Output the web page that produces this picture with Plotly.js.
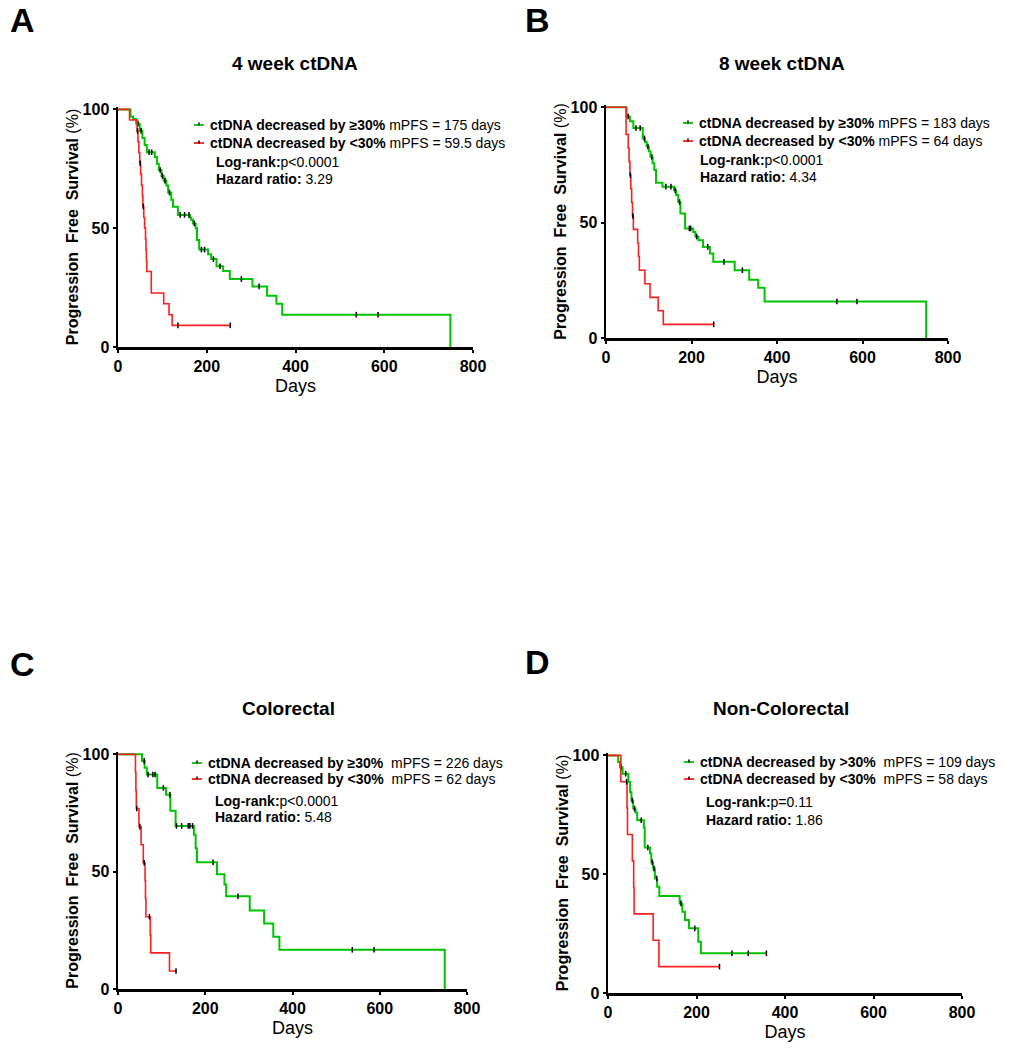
<!DOCTYPE html>
<html>
<head>
<meta charset="utf-8">
<script src="https://cdn.plot.ly/plotly-3.0.1.min.js"></script>
<style>
  html, body { margin: 0; padding: 0; background: #fff; }
  #grafico { width: 1013px; height: 1050px; }
</style>
</head>
<body>
<div id="grafico"></div>
<script>
// ---------------------------------------------------------------------
// DATA (days vs PFS %)
// ---------------------------------------------------------------------
const daysTicks = [0, 200, 400, 600, 800];
const pfsTicks = [0, 50, 100];

// A - 4 week ctDNA
const aGreenDays = [28, 34, 41, 49, 55, 60, 65, 83, 88, 92, 98, 103, 109, 113, 120, 124, 135, 162, 165, 169, 175, 178, 183, 203, 210, 222, 237, 252, 303, 336, 357, 370, 749];
const aGreenPfs = [97, 96, 94, 91, 88, 85, 82, 80, 77, 74.5, 72, 70, 68, 65, 62, 59, 55.6, 54.5, 53.5, 52, 50, 45, 41, 39, 37, 34, 32, 28.6, 25.5, 21.6, 18.2, 13.6, 0];
const aGreenCensored = [45, 52, 70, 76, 95, 100, 106, 116, 140, 150, 160, 172, 188, 195, 215, 230, 278, 318, 537, 586];
const aRedDays = [26, 43, 45, 47, 49, 51, 53, 55, 56, 58, 60, 62, 63, 64, 65, 75, 103, 115, 122];
const aRedPfs = [95.5, 90.9, 86.4, 81.8, 77.3, 72.7, 68.2, 63.6, 59.1, 54.5, 50, 45.5, 40.9, 36.4, 31.8, 22.7, 18.2, 13.6, 9.1];
const aRedCensored = [44, 50, 57, 135, 253];

// B - 8 week ctDNA
const bGreenDays = [48, 56, 64, 86, 91, 95, 100, 104, 109, 113, 117, 132, 159, 164, 169, 174, 185, 204, 209, 216, 227, 243, 251, 301, 335, 356, 371, 749];
const bGreenPfs = [96, 94, 91, 86.5, 85, 83, 81, 78.6, 75.7, 72.8, 67.3, 65.6, 64, 62, 59, 54, 47.5, 46, 44, 42.4, 39.5, 36.6, 33, 29.4, 25.3, 21.8, 15.8, 0];
const bGreenCensored = [52, 70, 80, 90, 98, 107, 140, 152, 162, 172, 195, 198, 212, 238, 276, 319, 540, 587];
const bRedDays = [47, 52, 54, 56, 58, 60, 62, 64, 74, 76, 78, 91, 103, 122, 134];
const bRedPfs = [88.2, 82.4, 76.5, 70.6, 64.7, 58.8, 52.9, 47.1, 41.2, 35.3, 29.4, 23.5, 17.6, 11.8, 5.9];
const bRedCensored = [57, 63, 252];

// C - Colorectal
const cGreenDays = [55, 61, 66, 90, 110, 120, 132, 174, 178, 181, 227, 244, 248, 302, 335, 356, 370, 749];
const cGreenPfs = [97.2, 94.3, 91.4, 85.7, 82.8, 76, 69.5, 65.7, 60, 54, 48.9, 44.5, 39.5, 33.5, 27.9, 22.3, 16.7, 0];
const cGreenCensored = [60, 69, 80, 85, 104, 119, 134, 146, 161, 165, 171, 218, 275, 537, 587];
const cRedDays = [40, 41, 42, 48, 53, 58, 62, 63, 64, 74, 75, 118];
const cRedPfs = [92.3, 84.6, 76.9, 69.2, 61.5, 53.8, 46.2, 38.5, 30.8, 23.1, 15.4, 7.7];
const cRedCensored = [43, 50, 60, 72, 133];

// D - Non-Colorectal
const dGreenDays = [23, 27, 33, 46, 50, 53, 57, 62, 66, 81, 83, 95, 98, 102, 106, 111, 116, 162, 168, 174, 183, 204, 210];
const dGreenPfs = [97.2, 95, 92.3, 88.8, 84.6, 81, 77.6, 76, 72.7, 69.6, 61.2, 58.7, 55, 52.4, 48.2, 44.7, 40.8, 37.7, 34.2, 30.7, 27.2, 21.6, 16.7];
const dGreenCensored = [30, 40, 55, 60, 75, 90, 100, 104, 110, 165, 196, 280, 317, 358];
const dRedDays = [29, 43, 44, 55, 58, 59, 102, 115];
const dRedPfs = [88.9, 77.8, 66.7, 55.6, 44.4, 33.3, 22.2, 11.1];
const dRedCensored = [42, 252];

// ---------------------------------------------------------------------
// STYLE / LAYOUT HELPERS
// ---------------------------------------------------------------------
const FUENTE = "Arial, 'Liberation Sans', sans-serif";
const VERDE = "#00c400";
const ROJO = "#ff1f1f";
const ANCHO = 1013, ALTO = 1050;
const px = (x) => x / ANCHO;
const py = (y) => 1 - y / ALTO;

// Panel boxes in page pixels (left, right, top, bottom of the plot area)
const panels = [
  {
    letra: "A", titulo: "4 week ctDNA", caja: [118, 473, 107, 347],
    verde: [aGreenDays, aGreenPfs, aGreenCensored], rojo: [aRedDays, aRedPfs, aRedCensored],
    nombreVerde: "<b>ctDNA decreased by ≥30%</b> mPFS = 175 days",
    nombreRojo: "<b>ctDNA decreased by &lt;30%</b> mPFS = 59.5 days",
    logrank: "<b>Log-rank:</b>p&lt;0.0001", hazard: "<b>Hazard ratio:</b> 3.29",
    leyenda: [208, 125, 143], notas: [214, 162, 179], letraPos: [22, 20], tituloPos: [295, 63],
  },
  {
    letra: "B", titulo: "8 week ctDNA", caja: [606, 948, 105, 338],
    verde: [bGreenDays, bGreenPfs, bGreenCensored], rojo: [bRedDays, bRedPfs, bRedCensored],
    nombreVerde: "<b>ctDNA decreased by ≥30%</b> mPFS = 183 days",
    nombreRojo: "<b>ctDNA decreased by &lt;30%</b> mPFS = 64 days",
    logrank: "<b>Log-rank:</b>p&lt;0.0001", hazard: "<b>Hazard ratio:</b> 4.34",
    leyenda: [697, 123, 141], notas: [698, 160, 177], letraPos: [537, 20], tituloPos: [782, 63],
  },
  {
    letra: "C", titulo: "Colorectal", caja: [118, 467, 752, 989],
    verde: [cGreenDays, cGreenPfs, cGreenCensored], rojo: [cRedDays, cRedPfs, cRedCensored],
    nombreVerde: "<b>ctDNA decreased by ≥30%</b>\u00a0 mPFS = 226 days",
    nombreRojo: "<b>ctDNA decreased by &lt;30%</b>\u00a0 mPFS = 62 days",
    logrank: "<b>Log-rank:</b>p&lt;0.0001", hazard: "<b>Hazard ratio:</b> 5.48",
    leyenda: [206, 763, 779], notas: [213, 801, 817], letraPos: [22, 664], tituloPos: [288, 708],
  },
  {
    letra: "D", titulo: "Non-Colorectal", caja: [608, 962, 753, 993],
    verde: [dGreenDays, dGreenPfs, dGreenCensored], rojo: [dRedDays, dRedPfs, dRedCensored],
    nombreVerde: "<b>ctDNA decreased by >30%</b>\u00a0 mPFS = 109 days",
    nombreRojo: "<b>ctDNA decreased by &lt;30%</b>\u00a0 mPFS = 58 days",
    logrank: "<b>Log-rank:</b>p=0.11", hazard: "<b>Hazard ratio:</b> 1.86",
    leyenda: [698, 762, 779], notas: [704, 802, 820], letraPos: [537, 662], tituloPos: [781, 708],
  },
];

// survival value in force at day t (step function)
function pfsEn(dias, pfs, t) {
  let s = 100;
  for (let i = 0; i < dias.length; i++) if (dias[i] <= t) s = pfs[i];
  return s;
}

function trazasCurva(serie, color, ancho, sufijo) {
  const [dias, pfs, censurados] = serie;
  const x = [0].concat(dias);
  const y = [100].concat(pfs);
  const ultimo = Math.max(...censurados);
  if (ultimo > dias[dias.length - 1]) {
    x.push(ultimo);
    y.push(pfs[pfs.length - 1]);
  }
  const linea = {
    x, y, type: "scatter", mode: "lines", showlegend: false,
    line: { shape: "hv", color, width: ancho },
    xaxis: "x" + sufijo, yaxis: "y" + sufijo, hoverinfo: "skip",
  };
  const marcas = {
    x: censurados, y: censurados.map((t) => pfsEn(dias, pfs, t)),
    type: "scatter", mode: "markers", showlegend: false, cliponaxis: false,
    marker: { symbol: "line-ns-open", size: 4, color: "#000", line: { width: 1.5, color: "#000" } },
    xaxis: "x" + sufijo, yaxis: "y" + sufijo, hoverinfo: "skip",
  };
  return [linea, marcas];
}

// small key glyph: coloured dash with a black censor tick in the middle
function claveLeyenda(xTexto, yFila, color) {
  const x0 = xTexto - 14, x1 = xTexto - 4, xm = (x0 + x1) / 2;
  return [
    { type: "line", xref: "paper", yref: "paper", x0: px(x0), x1: px(x1), y0: py(yFila), y1: py(yFila),
      line: { color, width: 1.8 } },
    { type: "line", xref: "paper", yref: "paper", x0: px(xm), x1: px(xm), y0: py(yFila - 2.5), y1: py(yFila + 0.5),
      line: { color: "#000", width: 1.5 } },
  ];
}

// ---------------------------------------------------------------------
// BUILD FIGURE
// ---------------------------------------------------------------------
const trazas = [];
const layout = {
  width: ANCHO, height: ALTO,
  margin: { l: 0, r: 0, t: 0, b: 0 },
  paper_bgcolor: "#fff", plot_bgcolor: "#fff",
  font: { family: FUENTE, color: "#000" },
  showlegend: false,
  annotations: [],
  shapes: [],
};

panels.forEach((p, i) => {
  const sufijo = i === 0 ? "" : String(i + 1);
  const [l, r, t, b] = p.caja;

  trazas.push(...trazasCurva(p.verde, VERDE, 2, sufijo));
  trazas.push(...trazasCurva(p.rojo, ROJO, 1.6, sufijo));

  layout["xaxis" + sufijo] = {
    domain: [px(l), px(r)], anchor: "y" + sufijo,
    range: [0, 800], tickvals: daysTicks,
    showline: true, linewidth: 2.5, linecolor: "#000",
    ticks: "outside", ticklen: 3, tickwidth: 2, tickcolor: "#000",
    tickfont: { family: FUENTE, size: 16, weight: "bold", color: "#000" },
    showgrid: false, zeroline: false, fixedrange: true,
    title: { text: "Days", font: { family: FUENTE, size: 18, color: "#000" }, standoff: 6 },
  };
  layout["yaxis" + sufijo] = {
    domain: [py(b), py(t)], anchor: "x" + sufijo,
    range: [0, 101], tickvals: pfsTicks,
    showline: true, linewidth: 2.5, linecolor: "#000",
    ticks: "outside", ticklen: 3, tickwidth: 2, tickcolor: "#000",
    tickfont: { family: FUENTE, size: 16, weight: "bold", color: "#000" },
    showgrid: false, zeroline: false, fixedrange: true,
    title: {
      text: "<b>Progression\u00a0 Free\u00a0 Survival</b> (%)",
      font: { family: FUENTE, size: 16, color: "#000" }, standoff: 0,
    },
  };

  const nota = (texto, x, y, size, extra) => Object.assign({
    text: texto, x: px(x), y: py(y), xref: "paper", yref: "paper",
    showarrow: false, xanchor: "left", yanchor: "middle",
    font: { family: FUENTE, size, color: "#000" },
  }, extra || {});

  const [xLey, yVerde, yRojo] = p.leyenda;
  layout.shapes.push(...claveLeyenda(xLey, yVerde, VERDE), ...claveLeyenda(xLey, yRojo, ROJO));

  layout.annotations.push(
    nota(p.nombreVerde, xLey, yVerde, 14),
    nota(p.nombreRojo, xLey, yRojo, 14),
    nota(p.logrank, p.notas[0], p.notas[1], 14),
    nota(p.hazard, p.notas[0], p.notas[2], 14),
    nota("<b>" + p.titulo + "</b>", p.tituloPos[0], p.tituloPos[1], 19, { xanchor: "center" }),
    nota("<b>" + p.letra + "</b>", p.letraPos[0], p.letraPos[1], 34, { xanchor: "center" })
  );
});

Plotly.newPlot("grafico", trazas, layout, { staticPlot: true });
</script>
</body>
</html>
